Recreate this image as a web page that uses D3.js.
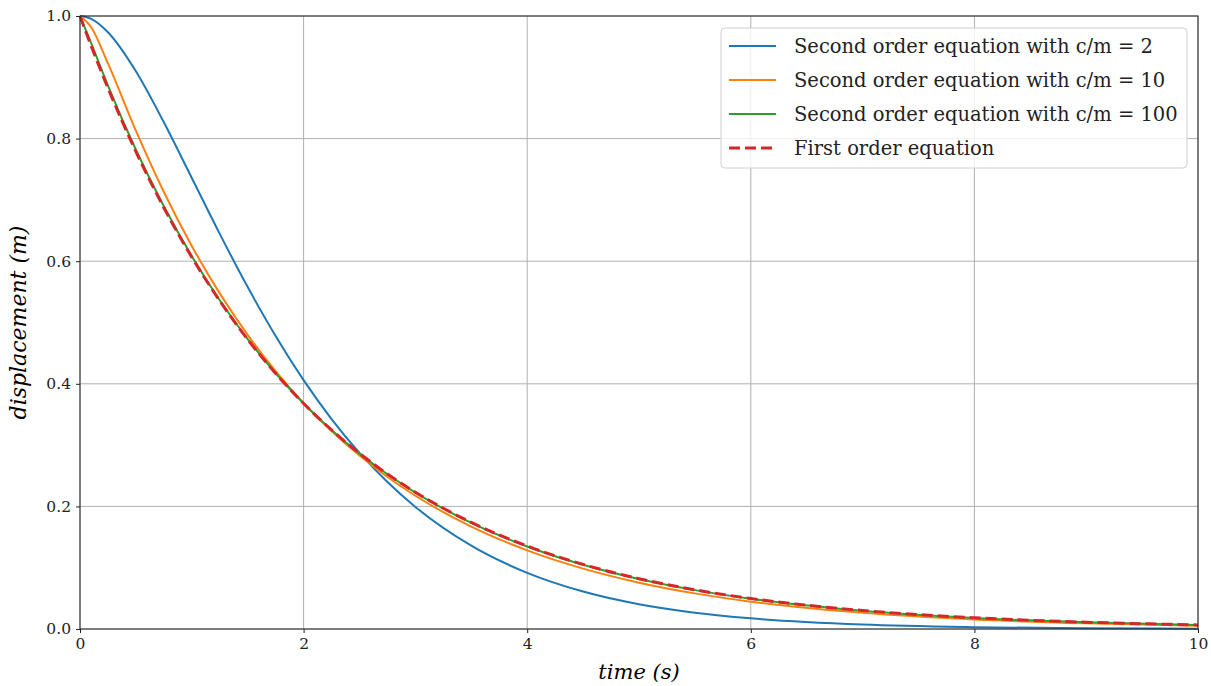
<!DOCTYPE html>
<html>
<head>
<meta charset="utf-8">
<script src="https://cdn.jsdelivr.net/npm/d3@7"></script>
<style>
  body { margin: 0; background: #fff; }
  text { font-family: "DejaVu Serif", "Liberation Serif", serif; }
</style>
</head>
<body>
<script>
// time samples (s)
var times = [0, 0.1, 0.25, 0.5, 0.75, 1, 1.25, 1.5, 1.75, 2, 2.25, 2.5, 2.75, 3, 3.5, 4, 4.5, 5, 5.5, 6, 7, 8, 9, 10];

// displacement (m)
var secondOrder2 = [1, 0.9953, 0.9735, 0.9098, 0.8266, 0.7358, 0.6446, 0.5578, 0.4779, 0.4060, 0.3425, 0.2873, 0.2397, 0.1991, 0.1359, 0.0916, 0.0611, 0.0404, 0.0266, 0.0174, 0.0073, 0.0030, 0.0012, 0.0005];
var secondOrder10 = [1, 0.9817, 0.9226, 0.8129, 0.7128, 0.6247, 0.5475, 0.4798, 0.4205, 0.3685, 0.3229, 0.2830, 0.2480, 0.2174, 0.1669, 0.1282, 0.0985, 0.0756, 0.0581, 0.0446, 0.0263, 0.0155, 0.0092, 0.0054];
var secondOrder100 = [1, 0.9558, 0.8864, 0.7818, 0.6895, 0.6081, 0.5363, 0.4730, 0.4172, 0.3679, 0.3245, 0.2861, 0.2524, 0.2226, 0.1731, 0.1346, 0.1047, 0.0815, 0.0634, 0.0493, 0.0298, 0.0180, 0.0109, 0.0066];
var firstOrder = [1, 0.9512, 0.8825, 0.7788, 0.6873, 0.6065, 0.5353, 0.4724, 0.4169, 0.3679, 0.3247, 0.2865, 0.2528, 0.2231, 0.1738, 0.1353, 0.1054, 0.0821, 0.0639, 0.0498, 0.0302, 0.0183, 0.0111, 0.0067];

var seriesNames = [
  "Second order equation with c/m = 2",
  "Second order equation with c/m = 10",
  "Second order equation with c/m = 100",
  "First order equation"
];
var seriesColors = ["#1f77b4", "#ff7f0e", "#2ca02c", "#d62728"];
var xTicks = [0, 2, 4, 6, 8, 10];
var yTicks = [0, 0.2, 0.4, 0.6, 0.8, 1.0];

var margin = { top: 16, right: 13, bottom: 57, left: 80 },
  width = 1211 - margin.left - margin.right,
  height = 686 - margin.top - margin.bottom;

var svg = d3.select("body")
  .append("svg")
  .attr("width", 1211)
  .attr("height", 686)
  .append("g")
  .attr("transform", "translate(" + margin.left + "," + margin.top + ")");

var x = d3.scaleLinear().domain([0, 10]).range([0, width]);
var y = d3.scaleLinear().domain([0, 1]).range([height, 0]);

// grid
svg.append("g")
  .selectAll("line")
  .data(xTicks)
  .enter()
  .append("line")
  .attr("x1", d => x(d)).attr("x2", d => x(d))
  .attr("y1", 0).attr("y2", height)
  .style("stroke", "#b0b0b0")
  .style("stroke-width", 1);
svg.append("g")
  .selectAll("line")
  .data(yTicks)
  .enter()
  .append("line")
  .attr("y1", d => y(d)).attr("y2", d => y(d))
  .attr("x1", 0).attr("x2", width)
  .style("stroke", "#b0b0b0")
  .style("stroke-width", 1);

// curves
var allSeries = [secondOrder2, secondOrder10, secondOrder100, firstOrder];
var line = d3.line()
  .x((d, i) => x(times[i]))
  .y(d => y(d))
  .curve(d3.curveMonotoneX);

var plot = svg.append("g");
allSeries.forEach(function (vals, k) {
  plot.append("path")
    .datum(vals)
    .attr("d", line)
    .style("fill", "none")
    .style("stroke", seriesColors[k])
    .style("stroke-width", k === 3 ? 3 : 2)
    .style("stroke-dasharray", k === 3 ? "11,5" : null);
});

// axes
var xAxis = svg.append("g")
  .attr("transform", "translate(0," + height + ")")
  .call(d3.axisBottom(x).tickValues(xTicks).tickFormat(d3.format("d")).tickSizeOuter(0).tickSize(4).tickPadding(5));
var yAxis = svg.append("g")
  .call(d3.axisLeft(y).tickValues(yTicks).tickFormat(d3.format(".1f")).tickSizeOuter(0).tickSize(4).tickPadding(5));
[xAxis, yAxis].forEach(function (a) {
  a.selectAll("text").style("font-size", "15.5px").style("fill", "#222")
    .style("font-family", "'DejaVu Serif', serif");
  a.select(".domain").remove();
  a.selectAll("line").style("stroke", "#222");
});

// frame
svg.append("rect")
  .attr("width", width)
  .attr("height", height)
  .style("fill", "none")
  .style("stroke", "#222")
  .style("stroke-width", 1);

// axis labels
svg.append("text")
  .attr("x", width / 2)
  .attr("y", height + 50)
  .style("text-anchor", "middle")
  .style("font-size", "21px")
  .style("font-style", "italic")
  .text("time (s)");
svg.append("text")
  .attr("transform", "rotate(-90)")
  .attr("x", -height / 2)
  .attr("y", -54)
  .style("text-anchor", "middle")
  .style("font-size", "22px")
  .style("font-style", "italic")
  .text("displacement (m)");

// legend
var legend = svg.append("g").attr("transform", "translate(641,12)");
legend.append("rect")
  .attr("width", 466)
  .attr("height", 140)
  .attr("rx", 4)
  .style("fill", "rgba(255,255,255,0.8)")
  .style("stroke", "#d0d0d0");
seriesNames.forEach(function (name, k) {
  var ly = 18 + k * 34;
  legend.append("line")
    .attr("x1", 8).attr("x2", 55)
    .attr("y1", ly).attr("y2", ly)
    .style("stroke", seriesColors[k])
    .style("stroke-width", k === 3 ? 3 : 2)
    .style("stroke-dasharray", k === 3 ? "11,5" : null);
  legend.append("text")
    .attr("x", 73)
    .attr("y", ly)
    .attr("dy", "0.35em")
    .style("font-size", "19.5px")
    .style("fill", "#222")
    .text(name);
});
</script>
</body>
</html>
